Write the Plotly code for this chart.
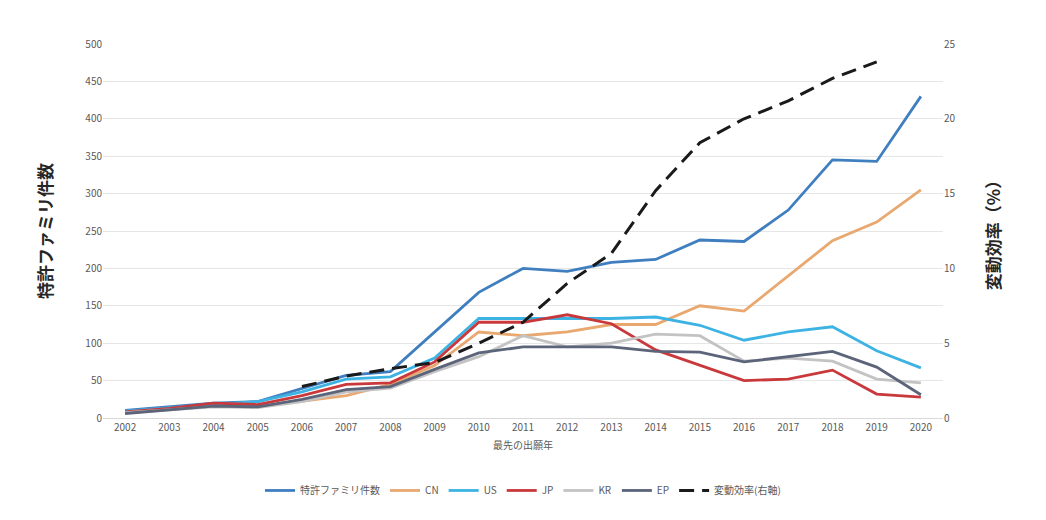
import plotly.graph_objects as go

years = [str(y) for y in range(2002, 2021)]
total = [10, 15, 20, 22, 40, 57, 62, 115, 168, 200, 196, 208, 212, 238, 236, 278, 345, 343, 430]
cn = [7, 12, 16, 15, 22, 30, 45, 70, 115, 110, 115, 125, 125, 150, 143, 190, 237, 262, 305]
us = [9, 13, 18, 22, 35, 52, 55, 80, 133, 133, 133, 133, 135, 124, 104, 115, 122, 90, 67]
jp = [8, 13, 20, 18, 30, 45, 47, 75, 128, 128, 138, 126, 91, 71, 50, 52, 64, 32, 28]
kr = [7, 11, 15, 14, 22, 35, 40, 62, 82, 110, 95, 100, 112, 110, 76, 80, 76, 52, 47]
ep = [6, 11, 16, 15, 25, 38, 42, 65, 87, 95, 95, 95, 89, 88, 75, 82, 89, 68, 31]
rate_years = [str(y) for y in range(2006, 2020)]
rate = [2.1, 2.8, 3.3, 3.7, 5.0, 6.4, 9.0, 11.0, 15.2, 18.4, 20.0, 21.2, 22.7, 23.8]

FONT = "Noto Sans CJK JP"
fig = go.Figure()
series = [
    ("特許ファミリ件数", total, "#3f7fbf"),
    ("CN", cn, "#e8a86f"),
    ("US", us, "#3db3e3"),
    ("JP", jp, "#c9393c"),
    ("KR", kr, "#c3c3c3"),
    ("EP", ep, "#5b6478"),
]
for name, vals, col in series:
    fig.add_trace(go.Scatter(x=years, y=vals, name=name, mode="lines",
                             line=dict(color=col, width=2.8)))
fig.add_trace(go.Scatter(x=rate_years, y=rate, name="変動効率(右軸)", mode="lines",
                         line=dict(color="#1a1a1a", width=3, dash="15px,8px"), yaxis="y2"))

fig.update_layout(
    width=1046, height=520,
    margin=dict(l=95, r=111, t=36, b=110, autoexpand=False),
    paper_bgcolor="white", plot_bgcolor="white",
    font=dict(family=FONT, size=10, color="#595959"),
    showlegend=True,
    legend=dict(orientation="h", x=0.5, xanchor="center", y=-0.155, yanchor="top",
                font=dict(size=10, color="#595959"), itemwidth=30),
    xaxis=dict(type="category", categoryorder="array", categoryarray=years,
               range=[-0.5, 18.5], showgrid=False, showline=True, linecolor="#d9d9d9",
               ticks="", tickfont=dict(size=10, color="#595959"),
               title=dict(text="最先の出願年", font=dict(size=10, color="#595959"), standoff=8)),
    yaxis=dict(range=[0, 500], dtick=50, showgrid=True, gridcolor="#e6e6e6", gridwidth=1,
               zeroline=False, showline=False, ticks="", tickfont=dict(size=10, color="#595959"),
               title=dict(text="<b>特許ファミリ件数</b>", font=dict(size=17, color="#262626"), standoff=28)),
    yaxis2=dict(range=[0, 25], dtick=5, overlaying="y", side="right", showgrid=False,
                zeroline=False, showline=False, ticks="", tickfont=dict(size=10, color="#595959"),
                title=dict(text="<b>変動効率（%）</b>", font=dict(size=17, color="#262626"), standoff=33)),
)
fig.write_html("out.html")
